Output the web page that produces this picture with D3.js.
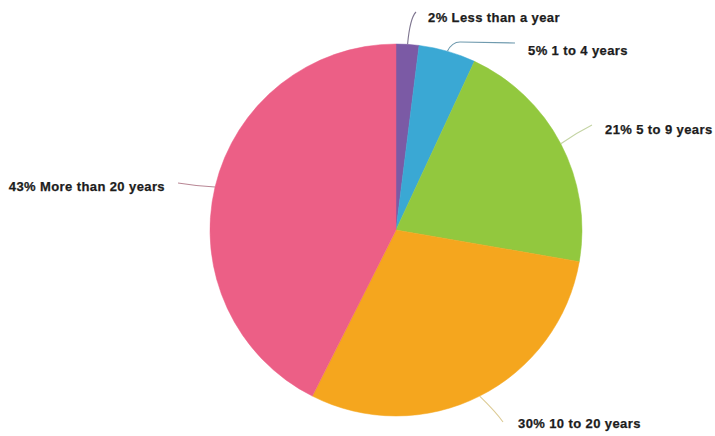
<!DOCTYPE html>
<html>
<head>
<meta charset="utf-8">
<script src="https://cdn.jsdelivr.net/npm/d3@7/dist/d3.min.js"></script>
<style>
  html, body { margin: 0; padding: 0; background: #ffffff; }
  svg { display: block; }
  text { font-family: "Liberation Sans", Arial, Helvetica, sans-serif; font-weight: bold; font-size: 13px; letter-spacing: 0.4px; fill: #1c1c1c; stroke: #1c1c1c; stroke-width: 0.25px; }
</style>
</head>
<body>
<svg id="chart" width="715" height="436"></svg>
<script>
// Years of experience, share of respondents (%)
const categories = ["Less than a year", "1 to 4 years", "5 to 9 years", "10 to 20 years", "More than 20 years"];
const values = [2, 5, 21, 30, 43];
const colors = ["#7b5aa5", "#3aa8d4", "#92c83e", "#f5a61e", "#ec5f86"];
const leaderColors = ["#7f7690", "#6f9aae", "#c4d4a4", "#dccb95", "#b98896"];

// Label placement relative to the pie centre: text anchor point and where the leader ends
const labelLayout = [
  { tx: 32,  ty: -213, lx: 20,  ly: -218, anchor: "start", cx: 14,  cy: -212 },
  { tx: 132, ty: -180, lx: 119, ly: -187, anchor: "start", cx: 56,  cy: -188 },
  { tx: 209, ty: -101, lx: 196, ly: -105, anchor: "start", cx: 180, cy: -97 },
  { tx: 122, ty: 193,  lx: 107, ly: 192,  anchor: "start", cx: 100, cy: 182 },
  { tx: -231, ty: -44, lx: -218, ly: -47, anchor: "end",   cx: -200, cy: -44 }
];

const width = 715, height = 436;
const cx = 396, cy = 230, radius = 186;

const svg = d3.select("#chart");
const g = svg.append("g").attr("transform", `translate(${cx},${cy})`);

const pie = d3.pie().sort(null).value(d => d.value);
const arcs = pie(values.map((v, i) => ({ value: v, name: categories[i], i })));

const arc = d3.arc().innerRadius(0).outerRadius(radius);
const edge = d3.arc().innerRadius(radius).outerRadius(radius);

g.selectAll("path.slice")
  .data(arcs)
  .join("path")
  .attr("class", "slice")
  .attr("d", arc)
  .attr("fill", d => colors[d.data.i])
  .attr("stroke", d => colors[d.data.i])
  .attr("stroke-width", 0.5);

// Leader lines from the middle of each slice's outer edge to its label
g.selectAll("path.leader")
  .data(arcs)
  .join("path")
  .attr("class", "leader")
  .attr("fill", "none")
  .attr("stroke", d => leaderColors[d.data.i])
  .attr("stroke-width", 1.1)
  .attr("d", d => {
    const [sx, sy] = edge.centroid(d);
    const L = labelLayout[d.data.i];
    const p = d3.path();
    p.moveTo(sx, sy);
    if (d.data.i === 1) {
      p.quadraticCurveTo(L.cx, L.cy, L.cx + 8, L.cy);
      p.lineTo(L.lx, L.ly);
    } else {
      p.quadraticCurveTo(L.cx, L.cy, L.lx, L.ly);
    }
    return p.toString();
  });

g.selectAll("text.label")
  .data(arcs)
  .join("text")
  .attr("class", "label")
  .attr("x", d => labelLayout[d.data.i].tx)
  .attr("y", d => labelLayout[d.data.i].ty)
  .attr("dy", "0.35em")
  .attr("text-anchor", d => labelLayout[d.data.i].anchor)
  .text(d => `${d.data.value}% ${d.data.name}`);
</script>
</body>
</html>
